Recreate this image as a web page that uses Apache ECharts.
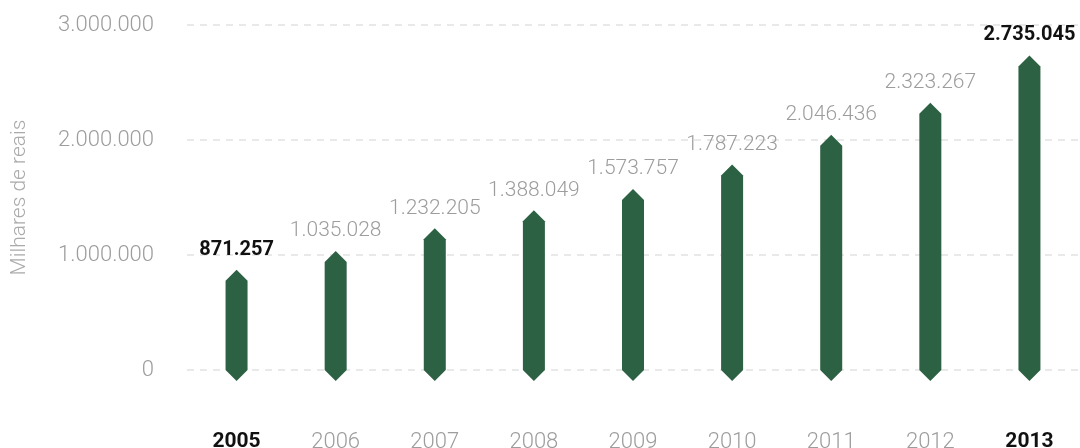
<!DOCTYPE html>
<html>
<head>
<meta charset="utf-8">
<style>
  html, body { margin: 0; padding: 0; background: #fff; }
  #chart { width: 1080px; height: 448px; }
</style>
<script src="https://cdn.jsdelivr.net/npm/echarts@6/dist/echarts.min.js"></script>
</head>
<body>
<div id="chart"></div>
<script>
// dados (milhares de reais)
var anos = ['2005', '2006', '2007', '2008', '2009', '2010', '2011', '2012', '2013'];
var valores = [871257, 1035028, 1232205, 1388049, 1573757, 1787223, 2046436, 2323267, 2735045];
var rotulos = ['871.257', '1.035.028', '1.232.205', '1.388.049', '1.573.757', '1.787.223', '2.046.436', '2.323.267', '2.735.045'];
var destaque = ['2005', '2013'];

var fonte = 'Roboto';
var cinza = '#9d9d9d';
var verde = '#2d6143';

function fmtMilhar(v) {
    return String(v).replace(/\B(?=(\d{3})+(?!\d))/g, '.');
}

var myChart = echarts.init(document.getElementById('chart'));

var option = {
    animation: false,
    grid: {
        left: 187,
        right: 1,
        top: 25,
        bottom: 78,
        containLabel: false,
        outerBoundsMode: 'none'
    },
    xAxis: {
        type: 'category',
        data: anos,
        axisLine: { show: false },
        axisTick: { show: false },
        axisLabel: {
            margin: 61,
            verticalAlign: 'top',
            formatter: function (v) {
                return destaque.indexOf(v) >= 0 ? '{b|' + v + '}' : '{n|' + v + '}';
            },
            rich: {
                n: { fontFamily: fonte, fontWeight: 300, fontSize: 22, color: cinza, lineHeight: 22 },
                b: { fontFamily: fonte, fontWeight: 'bold', fontSize: 21, color: '#111', lineHeight: 22 }
            }
        }
    },
    yAxis: {
        type: 'value',
        min: 0,
        max: 3000000,
        interval: 1000000,
        name: 'Milhares de reais',
        nameLocation: 'middle',
        nameGap: 157,
        nameTextStyle: { fontFamily: fonte, fontWeight: 300, fontSize: 21, color: '#aaa' },
        axisLine: { show: false },
        axisTick: { show: false },
        axisLabel: {
            margin: 33,
            fontFamily: fonte,
            fontWeight: 300,
            fontSize: 22,
            color: cinza,
            formatter: fmtMilhar
        },
        splitLine: {
            lineStyle: { color: '#e2e2e2', type: [7, 6], width: 1.5 }
        }
    },
    series: [{
        type: 'custom',
        data: valores.map(function (v, i) { return [i, v]; }),
        clip: false,
        encode: { x: 0, y: 1 },
        renderItem: function (params, api) {
            var i = params.dataIndex;
            var topo = api.coord([api.value(0), api.value(1)]);
            var base = api.coord([api.value(0), 0]);
            var w = 22, h = 11;
            var x = topo[0];
            var negrito = destaque.indexOf(anos[i]) >= 0;
            return {
                type: 'group',
                children: [{
                    type: 'polygon',
                    shape: {
                        points: [
                            [x - w / 2, topo[1] + h],
                            [x, topo[1]],
                            [x + w / 2, topo[1] + h],
                            [x + w / 2, base[1]],
                            [x, base[1] + h],
                            [x - w / 2, base[1]]
                        ]
                    },
                    style: { fill: verde }
                }, {
                    type: 'text',
                    x: x,
                    y: topo[1] - 20,
                    style: {
                        text: rotulos[i],
                        textAlign: 'center',
                        textVerticalAlign: 'middle',
                        fontFamily: fonte,
                        fontWeight: negrito ? 'bold' : 300,
                        fontSize: negrito ? 20 : 21,
                        fill: negrito ? '#111' : cinza
                    }
                }]
            };
        }
    }]
};

myChart.setOption(option);
window.onresize = myChart.resize;
</script>
</body>
</html>
